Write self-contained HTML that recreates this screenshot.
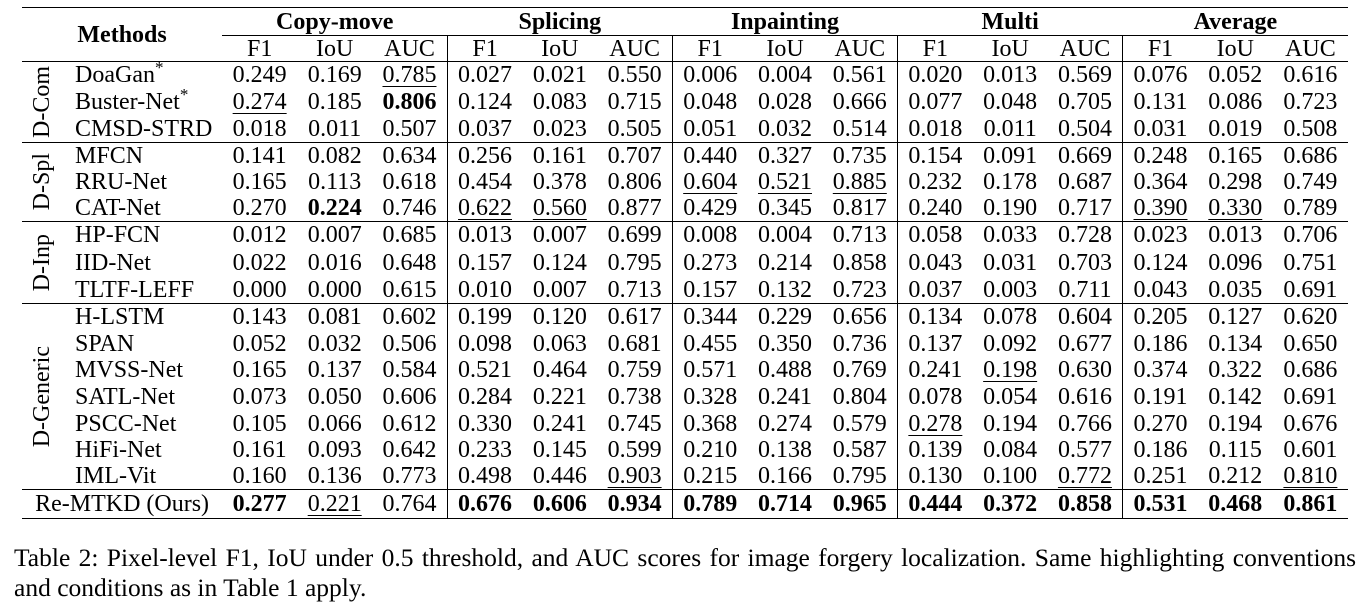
<!DOCTYPE html>
<html><head><meta charset="utf-8"><style>
body{margin:0;width:1359px;height:609px;background:#fff;position:relative;font-family:"Liberation Serif",serif;color:#000;overflow:hidden}
table{position:absolute;left:22px;top:7px;border-collapse:collapse;font-size:24px;table-layout:fixed;width:1326px}
td{padding:0;text-align:center;white-space:nowrap;line-height:20px}
.b{font-weight:bold}
u{text-decoration:underline;text-underline-offset:4px;text-decoration-thickness:1px}
.top td{border-top:1.6px solid #000}
.mid td{border-top:1px solid #000}
.bot td{border-bottom:1.6px solid #000}
.vl{border-left:1px solid #000}
.m{text-align:left;padding-left:13px}
.g div{writing-mode:vertical-rl;transform:rotate(180deg);margin:0 auto}
sup{font-size:17px;line-height:0}
.cap{position:absolute;left:14px;width:1342px;font-size:25.5px;line-height:30px;white-space:nowrap}
.j{text-align:justify;text-align-last:justify}
</style></head><body>
<table>
<colgroup><col style="width:40px"><col style="width:160px"><col span="15" style="width:75px"></colgroup>
<tr class="top" style="height:28px"><td colspan="2" rowspan="2" class="b" style="border-bottom:1px solid #000">Methods</td>
<td colspan="3" class="b" style="border-bottom:1px solid #000">Copy-move</td><td colspan="3" class="b" style="border-bottom:1px solid #000">Splicing</td><td colspan="3" class="b" style="border-bottom:1px solid #000">Inpainting</td><td colspan="3" class="b" style="border-bottom:1px solid #000">Multi</td><td colspan="3" class="b" style="border-bottom:1px solid #000">Average</td></tr>
<tr style="height:26px"><td>F1</td><td>IoU</td><td>AUC</td><td class="vl">F1</td><td>IoU</td><td>AUC</td><td class="vl">F1</td><td>IoU</td><td>AUC</td><td class="vl">F1</td><td>IoU</td><td>AUC</td><td class="vl">F1</td><td>IoU</td><td>AUC</td></tr>
<tr class="mid" style="height:27px"><td rowspan="3" class="g"><div>D-Com</div></td><td class="m">DoaGan<sup>*</sup></td><td>0.249</td><td>0.169</td><td><u>0.785</u></td><td class="vl">0.027</td><td>0.021</td><td>0.550</td><td class="vl">0.006</td><td>0.004</td><td>0.561</td><td class="vl">0.020</td><td>0.013</td><td>0.569</td><td class="vl">0.076</td><td>0.052</td><td>0.616</td></tr>
<tr style="height:27px"><td class="m">Buster-Net<sup>*</sup></td><td><u>0.274</u></td><td>0.185</td><td class="b">0.806</td><td class="vl">0.124</td><td>0.083</td><td>0.715</td><td class="vl">0.048</td><td>0.028</td><td>0.666</td><td class="vl">0.077</td><td>0.048</td><td>0.705</td><td class="vl">0.131</td><td>0.086</td><td>0.723</td></tr>
<tr style="height:27px"><td class="m">CMSD-STRD</td><td>0.018</td><td>0.011</td><td>0.507</td><td class="vl">0.037</td><td>0.023</td><td>0.505</td><td class="vl">0.051</td><td>0.032</td><td>0.514</td><td class="vl">0.018</td><td>0.011</td><td>0.504</td><td class="vl">0.031</td><td>0.019</td><td>0.508</td></tr>
<tr class="mid" style="height:26px"><td rowspan="3" class="g"><div>D-Spl</div></td><td class="m">MFCN</td><td>0.141</td><td>0.082</td><td>0.634</td><td class="vl">0.256</td><td>0.161</td><td>0.707</td><td class="vl">0.440</td><td>0.327</td><td>0.735</td><td class="vl">0.154</td><td>0.091</td><td>0.669</td><td class="vl">0.248</td><td>0.165</td><td>0.686</td></tr>
<tr style="height:27px"><td class="m">RRU-Net</td><td>0.165</td><td>0.113</td><td>0.618</td><td class="vl">0.454</td><td>0.378</td><td>0.806</td><td class="vl"><u>0.604</u></td><td><u>0.521</u></td><td><u>0.885</u></td><td class="vl">0.232</td><td>0.178</td><td>0.687</td><td class="vl">0.364</td><td>0.298</td><td>0.749</td></tr>
<tr style="height:26px"><td class="m">CAT-Net</td><td>0.270</td><td class="b">0.224</td><td>0.746</td><td class="vl"><u>0.622</u></td><td><u>0.560</u></td><td>0.877</td><td class="vl">0.429</td><td>0.345</td><td>0.817</td><td class="vl">0.240</td><td>0.190</td><td>0.717</td><td class="vl"><u>0.390</u></td><td><u>0.330</u></td><td>0.789</td></tr>
<tr class="mid" style="height:27px"><td rowspan="3" class="g"><div>D-Inp</div></td><td class="m">HP-FCN</td><td>0.012</td><td>0.007</td><td>0.685</td><td class="vl">0.013</td><td>0.007</td><td>0.699</td><td class="vl">0.008</td><td>0.004</td><td>0.713</td><td class="vl">0.058</td><td>0.033</td><td>0.728</td><td class="vl">0.023</td><td>0.013</td><td>0.706</td></tr>
<tr style="height:28px"><td class="m">IID-Net</td><td>0.022</td><td>0.016</td><td>0.648</td><td class="vl">0.157</td><td>0.124</td><td>0.795</td><td class="vl">0.273</td><td>0.214</td><td>0.858</td><td class="vl">0.043</td><td>0.031</td><td>0.703</td><td class="vl">0.124</td><td>0.096</td><td>0.751</td></tr>
<tr style="height:27px"><td class="m">TLTF-LEFF</td><td>0.000</td><td>0.000</td><td>0.615</td><td class="vl">0.010</td><td>0.007</td><td>0.713</td><td class="vl">0.157</td><td>0.132</td><td>0.723</td><td class="vl">0.037</td><td>0.003</td><td>0.711</td><td class="vl">0.043</td><td>0.035</td><td>0.691</td></tr>
<tr class="mid" style="height:27px"><td rowspan="7" class="g"><div>D-Generic</div></td><td class="m">H-LSTM</td><td>0.143</td><td>0.081</td><td>0.602</td><td class="vl">0.199</td><td>0.120</td><td>0.617</td><td class="vl">0.344</td><td>0.229</td><td>0.656</td><td class="vl">0.134</td><td>0.078</td><td>0.604</td><td class="vl">0.205</td><td>0.127</td><td>0.620</td></tr>
<tr style="height:26px"><td class="m">SPAN</td><td>0.052</td><td>0.032</td><td>0.506</td><td class="vl">0.098</td><td>0.063</td><td>0.681</td><td class="vl">0.455</td><td>0.350</td><td>0.736</td><td class="vl">0.137</td><td>0.092</td><td>0.677</td><td class="vl">0.186</td><td>0.134</td><td>0.650</td></tr>
<tr style="height:27px"><td class="m">MVSS-Net</td><td>0.165</td><td>0.137</td><td>0.584</td><td class="vl">0.521</td><td>0.464</td><td>0.759</td><td class="vl">0.571</td><td>0.488</td><td>0.769</td><td class="vl">0.241</td><td><u>0.198</u></td><td>0.630</td><td class="vl">0.374</td><td>0.322</td><td>0.686</td></tr>
<tr style="height:27px"><td class="m">SATL-Net</td><td>0.073</td><td>0.050</td><td>0.606</td><td class="vl">0.284</td><td>0.221</td><td>0.738</td><td class="vl">0.328</td><td>0.241</td><td>0.804</td><td class="vl">0.078</td><td>0.054</td><td>0.616</td><td class="vl">0.191</td><td>0.142</td><td>0.691</td></tr>
<tr style="height:26px"><td class="m">PSCC-Net</td><td>0.105</td><td>0.066</td><td>0.612</td><td class="vl">0.330</td><td>0.241</td><td>0.745</td><td class="vl">0.368</td><td>0.274</td><td>0.579</td><td class="vl"><u>0.278</u></td><td>0.194</td><td>0.766</td><td class="vl">0.270</td><td>0.194</td><td>0.676</td></tr>
<tr style="height:27px"><td class="m">HiFi-Net</td><td>0.161</td><td>0.093</td><td>0.642</td><td class="vl">0.233</td><td>0.145</td><td>0.599</td><td class="vl">0.210</td><td>0.138</td><td>0.587</td><td class="vl">0.139</td><td>0.084</td><td>0.577</td><td class="vl">0.186</td><td>0.115</td><td>0.601</td></tr>
<tr style="height:26px"><td class="m">IML-Vit</td><td>0.160</td><td>0.136</td><td>0.773</td><td class="vl">0.498</td><td>0.446</td><td><u>0.903</u></td><td class="vl">0.215</td><td>0.166</td><td>0.795</td><td class="vl">0.130</td><td>0.100</td><td><u>0.772</u></td><td class="vl">0.251</td><td>0.212</td><td><u>0.810</u></td></tr>
<tr class="mid bot" style="height:29px"><td colspan="2">Re-MTKD (Ours)</td><td class="b">0.277</td><td><u>0.221</u></td><td>0.764</td><td class="vl b">0.676</td><td class="b">0.606</td><td class="b">0.934</td><td class="vl b">0.789</td><td class="b">0.714</td><td class="b">0.965</td><td class="vl b">0.444</td><td class="b">0.372</td><td class="b">0.858</td><td class="vl b">0.531</td><td class="b">0.468</td><td class="b">0.861</td></tr>
</table>
<div class="cap j" style="top:543px">Table 2: Pixel-level F1, IoU under 0.5 threshold, and AUC scores for image forgery localization. Same highlighting conventions</div>
<div class="cap" style="top:573px">and conditions as in Table 1 apply.</div>
</body></html>
